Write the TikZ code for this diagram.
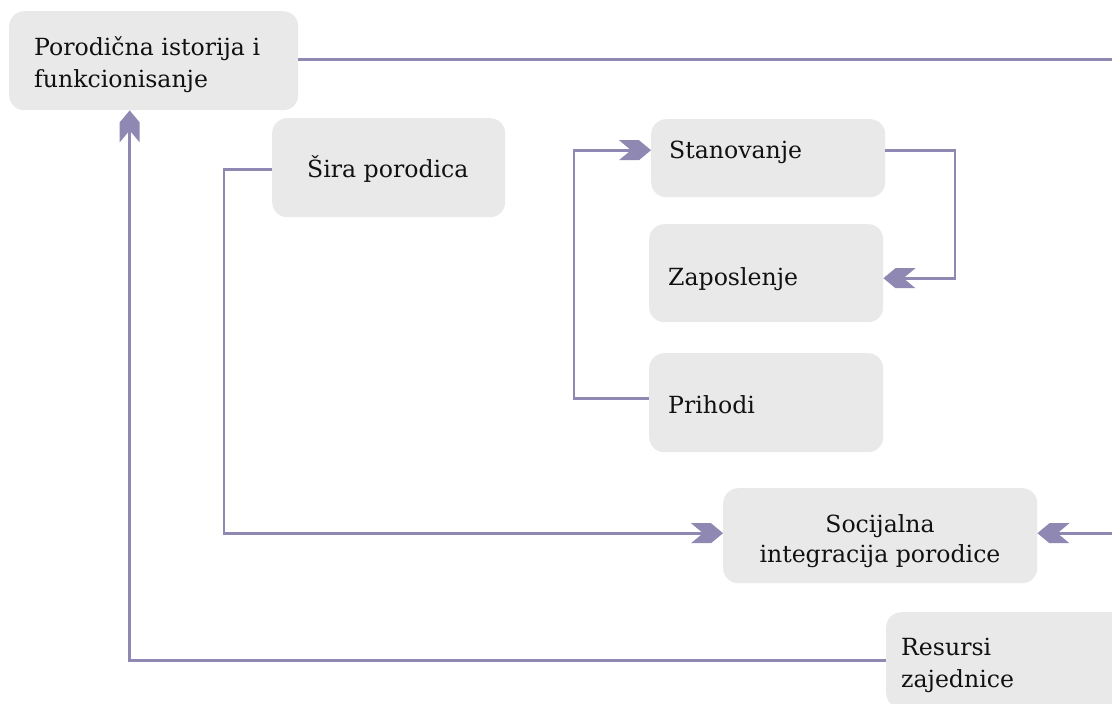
\documentclass[tikz,border=0pt]{standalone}
\usepackage{fontspec}
\setmainfont{DejaVu Serif}
\definecolor{linec}{HTML}{8F88B3}
\definecolor{boxc}{HTML}{E9E9E9}
\definecolor{ink}{HTML}{111111}

% notched chevron arrow head
\pgfdeclarearrow{
  name=Chev,
  setup code={
    \pgfarrowssettipend{0pt}
    \pgfarrowssetlineend{-18pt}
    \pgfarrowssetbackend{-32pt}
    \pgfarrowsupperhullpoint{0pt}{0pt}
    \pgfarrowsupperhullpoint{-12pt}{10pt}
    \pgfarrowsupperhullpoint{-32pt}{10pt}
  },
  drawing code={
    \pgfpathmoveto{\pgfpointorigin}
    \pgfpathlineto{\pgfpoint{-12pt}{10pt}}
    \pgfpathlineto{\pgfpoint{-32pt}{10pt}}
    \pgfpathlineto{\pgfpoint{-20pt}{0pt}}
    \pgfpathlineto{\pgfpoint{-32pt}{-10pt}}
    \pgfpathlineto{\pgfpoint{-12pt}{-10pt}}
    \pgfpathclose
    \pgfusepathqfill
  }
}

\begin{document}
\begin{tikzpicture}[x=1pt,y=-1pt,
  box/.style={fill=boxc, rounded corners=15pt, inner sep=0pt, anchor=north west},
  lbl/.style={inner sep=0pt, anchor=north west, align=left, text=ink,
              font=\fontsize{23.6}{32}\selectfont},
  conn/.style={color=linec, line width=2.8pt, -Chev}]
\useasboundingbox (0,0) rectangle (1112,704);
\clip (0,0) rectangle (1112,704);

% boxes
\node[box, minimum width=289pt, minimum height=99pt] (fam)  at (9,11)    {};
\node[box, minimum width=233pt, minimum height=99pt] (sira) at (272,118) {};
\node[box, minimum width=234pt, minimum height=78pt] (stan) at (651,119) {};
\node[box, minimum width=234pt, minimum height=98pt] (zap)  at (649,224) {};
\node[box, minimum width=234pt, minimum height=99pt] (prih) at (649,353) {};
\node[box, minimum width=314pt, minimum height=95pt] (soc)  at (723,488) {};
\node[box, minimum width=260pt, minimum height=96pt] (res)  at (886,612) {};

% labels
\node[lbl] (famT)  at (34,31)  {\rule{0pt}{24pt}Porodična istorija i\\funkcionisanje};
\node[lbl] (siraT) at (307,153) {\rule{0pt}{24pt}Šira porodica};
\node[lbl] (stanT) at (669,134) {\rule{0pt}{24pt}Stanovanje};
\node[lbl] (zapT)  at (668,261) {\rule{0pt}{24pt}Zaposlenje};
\node[lbl] (prihT) at (668,389) {\rule{0pt}{24pt}Prihodi};
\node[lbl, anchor=north, align=center, font=\fontsize{23.6}{30}\selectfont]
      (socT) at (880,508) {\rule{0pt}{24pt}Socijalna\\integracija porodice};
\node[lbl] (resT)  at (901,631) {\rule{0pt}{24pt}Resursi\\zajednice};

% bend points of the connectors
\coordinate (kRight) at (1130,300);
\coordinate (kSira)  at (224,400);
\coordinate (kPrih)  at (574,300);
\coordinate (kStan)  at (955,200);

% connectors
\draw[conn] ([yshift=1.5pt]fam.east) -| (kRight) |- ([yshift=2.5pt]soc.east);
\draw[conn] ([yshift=-1.5pt]sira.west) -| (kSira) |- ([yshift=2.5pt]soc.west);
\draw[conn] ([yshift=4.5pt]prih.west) -| (kPrih) |- ([yshift=8pt]stan.west);
\draw[conn] ([yshift=8pt]stan.east) -| (kStan) |- ([yshift=-5pt]zap.east);
\draw[conn] (res.west) -| ([xshift=-24pt]fam.south);
\end{tikzpicture}
\end{document}
